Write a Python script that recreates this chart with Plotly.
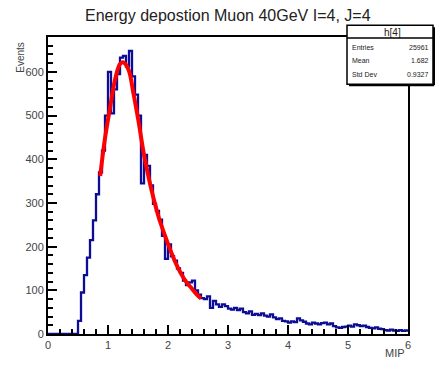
import plotly.graph_objects as go

# ---------------- data ----------------
bin_width = 0.05
x_min, x_max = 0.0, 6.0
counts = [
    0, 0, 0, 0, 0, 0, 0, 0, 0, 0,
    30, 95, 135, 175, 215, 260, 320, 370, 420, 500,
    600, 505, 560, 595, 633, 637, 612, 648, 590, 548,
    500, 345, 410, 385, 340, 298, 282, 262, 225, 172,
    205, 178, 168, 150, 140, 122, 112, 118, 122, 100,
    90, 82, 80, 86, 60, 76, 68, 62, 68, 64,
    58, 56, 60, 55, 58, 50, 47, 52, 44, 46,
    43, 47, 42, 40, 45, 38, 34, 36, 30, 29,
    26, 29, 27, 36, 31, 28, 24, 22, 26, 24,
    22, 25, 26, 22, 24, 18, 15, 14, 16, 17,
    19, 17, 22, 20, 18, 19, 16, 14, 13, 15,
    12, 11, 9, 8, 10, 8, 7, 9, 7, 8,
]
fit_x = [0.87, 0.95, 1.04, 1.12, 1.20, 1.25, 1.34, 1.42, 1.51, 1.59, 1.68,
         1.76, 1.85, 1.95, 2.04, 2.13, 2.21, 2.30, 2.38, 2.47, 2.55]
fit_y = [362, 448, 523, 584, 618, 622, 606, 554, 486, 418, 357,
         310, 265, 225, 192, 162, 140, 120, 107, 92, 81]

title = "Energy depostion Muon 40GeV I=4, J=4"
hist_name = "h[4]"
stat_labels = ["Entries", "Mean", "Std Dev"]
stat_values = ["25961", "1.682", "0.9327"]
y_ticks = [0, 100, 200, 300, 400, 500, 600]
x_ticks = [0, 1, 2, 3, 4, 5, 6]

# ---------------- figure ----------------
edges = [x_min + i * bin_width for i in range(len(counts) + 1)]
hx = edges
hy = counts + [counts[-1]]

OFF = 8  # page body margin
W, H = 443 - 2 * OFF, 371 - 2 * OFF
# plot area in page pixels: x 48..408, y 37..338
L, T = 48 - OFF, 37 - OFF
R = W - (408 - OFF)
B = H - (338 - OFF)
pw, ph = W - L - R, H - T - B


def px(xp):
    return (xp - OFF - L) / pw


def py(yp):
    return (H - B - (yp - OFF)) / ph


fig = go.Figure()
fig.add_trace(go.Scatter(x=hx, y=hy, mode="lines", line_shape="hv",
                         line=dict(color="#0c0c96", width=2.3), hoverinfo="skip"))
fig.add_trace(go.Scatter(x=fit_x, y=fit_y, mode="lines", line_shape="spline",
                         line=dict(color="#ff0000", width=4), hoverinfo="skip"))

axis_common = dict(showgrid=False, zeroline=False, showline=True, linecolor="black",
                   linewidth=2, mirror=True, ticks="inside", tickcolor="black",
                   tickwidth=1.5, ticklen=9,
                   tickfont=dict(family="Liberation Sans, Arial", size=11, color="#444"))

fig.update_layout(
    width=W, height=H,
    margin=dict(l=L, r=R, t=T, b=B),
    paper_bgcolor="white", plot_bgcolor="white",
    showlegend=False,
    xaxis=dict(range=[x_min, x_max], tickvals=x_ticks,
               minor=dict(ticks="inside", ticklen=5, tickcolor="black", dtick=0.2, showgrid=False),
               **axis_common),
    yaxis=dict(range=[0, 680], tickvals=y_ticks,
               minor=dict(ticks="inside", ticklen=5, tickcolor="black", dtick=20, showgrid=False),
               **axis_common),
)

F = "Liberation Sans, Arial"
annotations = [
    dict(text=title, x=px(228), y=py(15), xanchor="center", yanchor="middle",
         font=dict(family=F, size=16, color="#222")),
    dict(text="Events", x=px(21), y=py(58), xanchor="center", yanchor="middle",
         textangle=-90, font=dict(family=F, size=10, color="#444")),
    dict(text="MIP", x=px(407), y=py(357), xanchor="right", yanchor="middle",
         font=dict(family=F, size=11, color="#444")),
    dict(text=hist_name, x=px(392), y=py(32), xanchor="center", yanchor="middle",
         font=dict(family=F, size=10, color="#222")),
]
row_y = [48, 61, 75]
for lab, val, yy in zip(stat_labels, stat_values, row_y):
    annotations.append(dict(text=lab, x=px(350), y=py(yy), xanchor="left", yanchor="middle",
                            font=dict(family=F, size=7, color="#222")))
    annotations.append(dict(text=val, x=px(431), y=py(yy), xanchor="right", yanchor="middle",
                            font=dict(family=F, size=7, color="#222")))
for a in annotations:
    a.update(xref="paper", yref="paper", showarrow=False)
fig.update_layout(annotations=annotations)

fig.add_shape(type="rect", xref="paper", yref="paper",
              x0=px(347), x1=px(433), y0=py(85), y1=py(25),
              line=dict(color="black", width=1.5), fillcolor="white", layer="above")
fig.add_shape(type="line", xref="paper", yref="paper",
              x0=px(347), x1=px(433), y0=py(38), y1=py(38),
              line=dict(color="black", width=1.5), layer="above")
fig.add_shape(type="line", xref="paper", yref="paper",
              x0=px(434), x1=px(434), y0=py(86), y1=py(27),
              line=dict(color="black", width=2), layer="above")
fig.add_shape(type="line", xref="paper", yref="paper",
              x0=px(349), x1=px(434), y0=py(86), y1=py(86),
              line=dict(color="black", width=2), layer="above")

fig.write_html("out.html")
